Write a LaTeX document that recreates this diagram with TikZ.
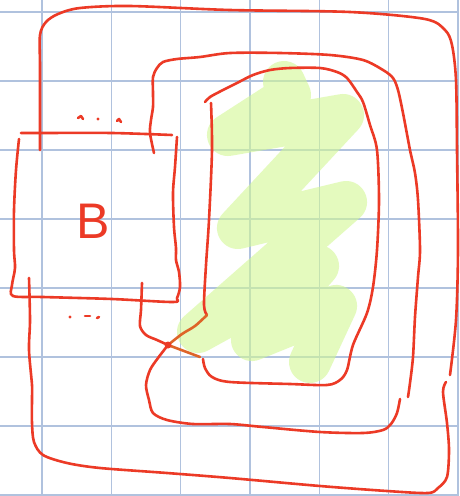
\documentclass[tikz,border=0pt]{standalone}
\usepackage{fontspec}
\setmainfont{Liberation Sans}
\definecolor{pen}{RGB}{236,58,38}
\definecolor{penorange}{RGB}{222,100,40}
\definecolor{gridc}{RGB}{176,194,222}
\definecolor{hl}{RGB}{210,248,147}
\tikzset{
  ink/.style={draw=pen, line width=2.6pt, line cap=round, line join=round},
  inko/.style={ink, draw=penorange},
  gridline/.style={draw=gridc, line width=1.1pt},
  highlight/.style={draw=hl, opacity=0.6, line width=42pt, line cap=round, line join=round},
  dotmark/.style={fill=pen},
}
\begin{document}
\begin{tikzpicture}[x=1pt,y=-1pt]
\useasboundingbox (0,0) rectangle (459,496);
\fill[white] (0,0) rectangle (459,496);
% grid
\foreach \x in {42,111.3,180.6,250,319.3,388.6,458} \draw[gridline] (\x,0) -- (\x,496);
\foreach \y in {12,81,150,219,288,357,426,495} \draw[gridline] (0,\y) -- (459,\y);
% highlighter scribble
\draw[highlight] (284,82) -- (290,95) -- (228,135) -- (343,115) -- (238,228) -- (346,202) -- (198,332) -- (318,266) -- (252,340) -- (336,306) -- (310,362);
% outer loop
\draw[ink] plot[smooth,tension=0.5] coordinates {(40,150) (40,120) (40,67) (40,35) (46,22) (58,14) (80,8) (130,6) (230,10) (350,12) (425,19) (445,30) (452,45) (456,80) (457,150) (458,250) (456,320) (450,375)};
\draw[ink] plot[smooth,tension=0.5] coordinates {(446,382) (443,392) (447,423) (449,450) (447,477) (438,488) (428,493) (387,491) (320,486) (230,478) (167,473) (100,468) (67,463) (43,455) (34,442) (32,423) (32,398) (32,385) (29,350) (30,320) (29,278)};
% middle loop
\draw[ink] plot[smooth,tension=0.5] coordinates {(168,345) (158,358) (150,370) (146,385) (149,400) (153,413) (167,420) (193,424) (230,424) (263,427) (320,432) (363,433) (383,430) (391,424) (397,413) (400,399)};
\draw[ink] plot[smooth,tension=0.5] coordinates {(408,397) (410,383) (413,357) (415,317) (418,277) (420,250) (418,200) (415,173) (410,150) (403,113) (398,90) (393,78) (383,70) (363,60) (330,55) (280,53) (230,53) (200,57) (177,59) (163,62) (157,68) (153,77) (153,93) (153,107) (151,120) (150,133) (154,153)};
% innermost loop
\draw[ink] plot[smooth,tension=0.5] coordinates {(211,103) (212,150) (209,220) (206,265) (204,305) (207,315)};
\draw[inko] plot[smooth,tension=0.5] coordinates {(207,315) (195,326) (182,334) (168,345)};
\draw[ink] plot[smooth,tension=0.5] coordinates {(142,283) (141,310) (140,326) (146,335) (157,340) (168,345)};
\draw[inko] (168,345) -- (200,357);
\draw[ink] plot[smooth,tension=0.5] coordinates {(203,359) (205,368) (212,377) (230,382) (290,384) (327,385) (340,380) (347,370) (353,345) (367,313) (373,287) (377,250) (379,200) (377,150) (370,125) (363,102) (357,92) (347,78) (337,72) (320,68) (290,68) (270,70) (253,75) (237,83) (223,90) (210,97) (205,102)};
\fill[pen] (168,345) circle (3.5);
% box B
\draw[ink] plot[smooth,tension=0.5] coordinates {(21,133) (40,133) (112,133) (172,135)};
\draw[ink] plot[smooth,tension=0.5] coordinates {(177,137) (175,167) (173,193) (174,227) (176,248) (176,260) (179,272) (180,287) (177,298) (173,302) (112,299) (43,297) (13,296) (12,285) (15,268) (14,250) (14,210) (16,170) (19,139)};
\node[text=pen, font=\fontsize{50}{50}\selectfont] (blabel) at (93,221) {B};
% dots
\draw[ink] (78,118) -- (81,116) -- (83,119);
\fill[dotmark] (98,119) circle (1.6);
\draw[ink] (117,121) -- (119,119) -- (121,122);
\fill[dotmark] (70,317) circle (1.6);
\draw[ink] (85,316) -- (90,316);
\draw[ink] (97,318) -- (99,317);
\end{tikzpicture}
\end{document}
